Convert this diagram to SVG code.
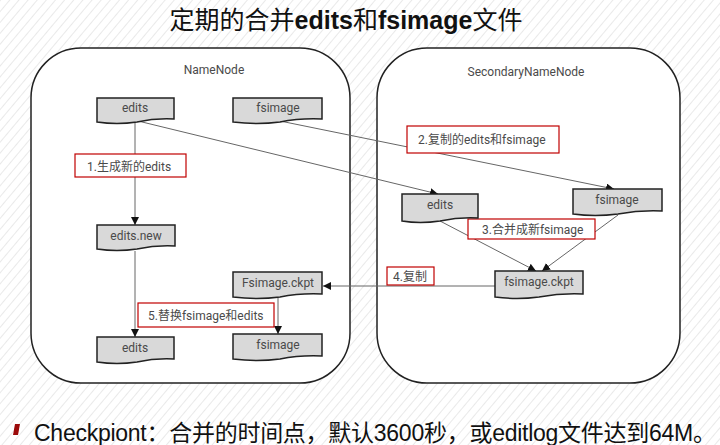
<svg xmlns="http://www.w3.org/2000/svg" width="720" height="445" viewBox="0 0 720 445">
<defs>
<pattern id="hatch" width="7" height="7" patternUnits="userSpaceOnUse" patternTransform="rotate(40)">
<rect width="7" height="7" fill="#ffffff"/>
<line x1="0" y1="0" x2="0" y2="7" stroke="#e9e9e9" stroke-width="2"/>
</pattern>
<marker id="arr" viewBox="0 0 10 10" refX="10" refY="5" markerWidth="8" markerHeight="8" markerUnits="userSpaceOnUse" orient="auto">
<path d="M0,0 L10,5 L0,10 Z" fill="#111"/>
</marker>
<style>
.cont{fill:#fff;stroke:#222;stroke-width:1.5}
.doc{fill:#d9d9d9;stroke:#222;stroke-width:1.5}
.nt{font-family:Roboto,"Noto Sans","Noto Sans CJK SC",sans-serif;font-size:12px;fill:#4a4a4a;text-anchor:middle}
.lbl{font-family:Roboto,"Noto Sans","Noto Sans CJK SC",sans-serif;font-size:12px;fill:#4a4a4a}
.lbox{fill:#fff;stroke:#c00000;stroke-width:1.2}
.connk{stroke:#666;stroke-width:1;fill:none;marker-end:url(#arr)}
</style>
</defs>
<rect width="720" height="445" fill="url(#hatch)"/>
<text x="346" y="29" text-anchor="middle" font-size="25" font-family="'Liberation Serif','Noto Sans CJK SC',serif" fill="#111">定期的合并<tspan font-family="'Liberation Sans',sans-serif" font-weight="bold">edits</tspan>和<tspan font-family="'Liberation Sans',sans-serif" font-weight="bold">fsimage</tspan>文件</text>

<g id="namenode">
<rect class="cont" x="31" y="48" width="319" height="335" rx="50" ry="50"/>
<text class="nt" x="214" y="74">NameNode</text>
</g>
<g id="secondarynamenode">
<rect class="cont" x="377" y="48" width="303" height="335" rx="50" ry="50"/>
<text class="nt" x="526" y="76">SecondaryNameNode</text>
</g>

<g id="connectors">
<line class="connk" x1="135" y1="121" x2="135" y2="225"/>
<line class="connk" x1="138" y1="121" x2="438" y2="194"/>
<line class="connk" x1="280" y1="121" x2="614" y2="189"/>
<line class="connk" x1="440" y1="221" x2="536" y2="271"/>
<line class="connk" x1="618" y1="215" x2="542" y2="271"/>
<line class="connk" x1="495" y1="286" x2="323" y2="286"/>
<line class="connk" x1="135" y1="251" x2="135" y2="337"/>
<line class="connk" x1="278" y1="298" x2="278" y2="334"/>
</g>

<g id="label1"><rect class="lbox" x="75" y="154" width="111" height="23"/><text class="lbl" x="87" y="171">1.生成新的edits</text></g>
<g id="label2"><rect class="lbox" x="407" y="126" width="152" height="27"/><text class="lbl" x="418" y="144">2.复制的edits和fsimage</text></g>
<g id="label3"><rect class="lbox" x="468" y="219" width="127" height="20"/><text class="lbl" x="482" y="234">3.合并成新fsimage</text></g>
<g id="label4"><rect class="lbox" x="387" y="267" width="47" height="18"/><text class="lbl" x="393" y="281">4.复制</text></g>
<g id="label5"><rect class="lbox" x="138" y="303" width="136" height="24"/><text class="lbl" x="148" y="320">5.替换fsimage和edits</text></g>

<g id="nn-edits"><path class="doc" d="M97,98 H174 V119 Q155,118 137,122 Q117,125 97,122 Z"/><text class="nt" x="135" y="112">edits</text></g>
<g id="nn-fsimage"><path class="doc" d="M233,98 H322 V119 Q300,118 280,122 Q257,125 233,122 Z"/><text class="nt" x="278" y="112">fsimage</text></g>
<g id="nn-editsnew"><path class="doc" d="M97,225 H175 V246 Q156,245 137,249 Q117,252 97,249 Z"/><text class="nt" x="136" y="240">edits.new</text></g>
<g id="nn-fsimageckpt"><path class="doc" d="M233,272 H322 V294 Q300,293 280,297 Q257,300 233,297 Z"/><text class="nt" x="278" y="287">Fsimage.ckpt</text></g>
<g id="nn-edits2"><path class="doc" d="M97,337 H174 V359 Q155,358 137,362 Q117,365 97,362 Z"/><text class="nt" x="135" y="352">edits</text></g>
<g id="nn-fsimage2"><path class="doc" d="M233,334 H322 V356 Q300,355 280,359 Q257,362 233,359 Z"/><text class="nt" x="278" y="349">fsimage</text></g>

<g id="snn-edits"><path class="doc" d="M402,194 H478 V218 Q459,217 440,221 Q420,224 402,221 Z"/><text class="nt" x="440" y="209">edits</text></g>
<g id="snn-fsimage"><path class="doc" d="M573,189 H662 V211 Q640,210 618,214 Q595,217 573,214 Z"/><text class="nt" x="617" y="204">fsimage</text></g>
<g id="snn-fsimageckpt"><path class="doc" d="M495,271 H583 V294 Q561,293 539,297 Q517,300 495,297 Z"/><text class="nt" x="539" y="286">fsimage.ckpt</text></g>

<path d="M15,424 L20,424 L18,435 L13,435 Z" fill="#9b0a0a"/>
<text x="34" y="441" font-size="23" font-family="'Liberation Sans','Noto Sans CJK SC',sans-serif" fill="#111" textLength="682" lengthAdjust="spacing">Checkpiont：合并的时间点，默认3600秒，或editlog文件达到64M。</text>
</svg>
